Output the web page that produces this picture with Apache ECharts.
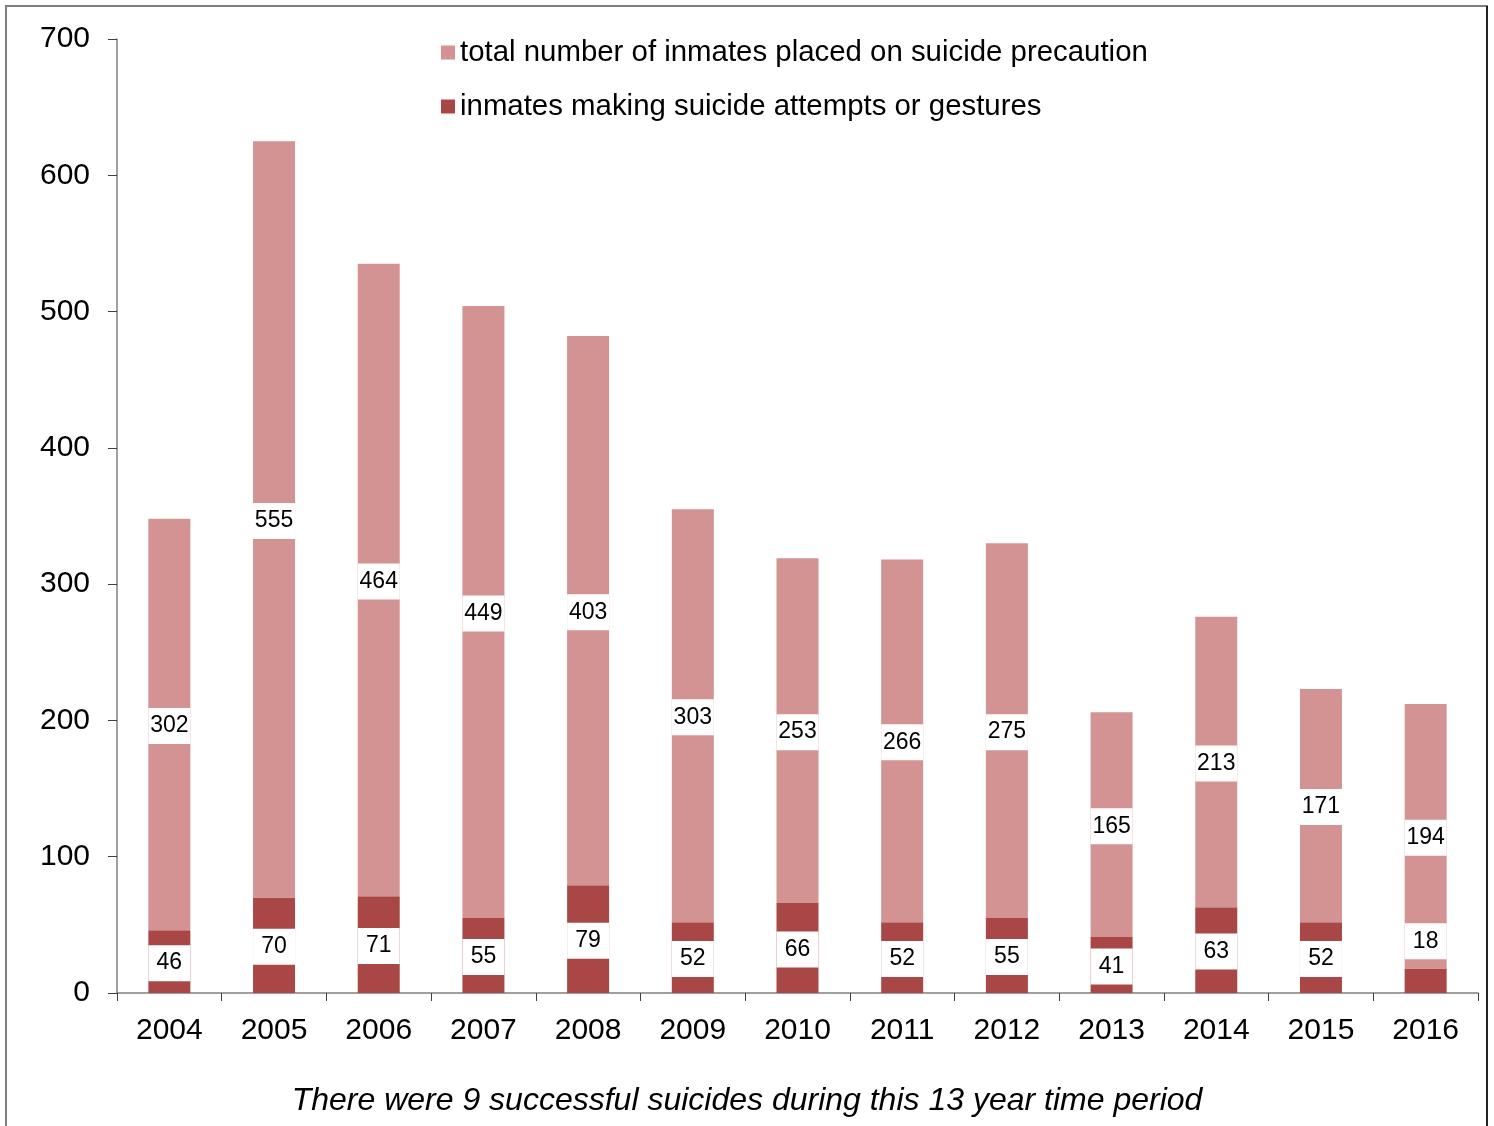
<!DOCTYPE html>
<html>
<head>
<meta charset="utf-8">
<script src="https://cdn.jsdelivr.net/npm/echarts@6/dist/echarts.min.js"></script>
<style>
html,body{margin:0;padding:0;background:#fff;}
#chart{width:1494px;height:1126px;}
</style>
</head>
<body>
<div id="chart"></div>
<script>
const years = ['2004','2005','2006','2007','2008','2009','2010','2011','2012','2013','2014','2015','2016'];
const attempts = [46, 70, 71, 55, 79, 52, 66, 52, 55, 41, 63, 52, 18];
const precaution = [302, 555, 464, 449, 403, 303, 253, 266, 275, 165, 213, 171, 194];
const yTicks = [0, 100, 200, 300, 400, 500, 600, 700];
const caption = 'There were 9 successful suicides during this 13 year time period';

const FONT = '"Liberation Sans", Arial, sans-serif';
const LIGHT = '#D29392';
const DARK = '#A84745';

const labelStyle = {
  show: true,
  position: 'inside',
  color: '#000',
  fontFamily: FONT,
  fontSize: 23,
  lineHeight: 23,
  backgroundColor: '#fff',
  width: 42,
  align: 'center',
  padding: [9, 0, 4, 0],
  offset: [0, 1.5]
};

const attemptData = attempts.map((v, i) => {
  if (i === 12) return { value: v, label: { offset: [0, -39.5] } };
  return v;
});

const chart = echarts.init(document.getElementById('chart'));
chart.setOption({
  animation: false,
  backgroundColor: '#fff',
  grid: { left: 117, right: 16, top: 39, bottom: 133, containLabel: false },
  legend: {
    orient: 'vertical',
    left: 436,
    top: 33,
    itemWidth: 14,
    itemHeight: 14,
    itemGap: 25,
    icon: 'rect',
    data: ['total number of inmates placed on suicide precaution', 'inmates making suicide attempts or gestures'],
    textStyle: { fontFamily: FONT, fontSize: 29.4, color: '#000' }
  },
  xAxis: {
    type: 'category',
    data: years,
    axisLine: { lineStyle: { color: '#808080', width: 1.5 } },
    axisTick: { show: true, length: 8, lineStyle: { color: '#404040' } },
    axisLabel: { fontFamily: FONT, fontSize: 30, color: '#000', margin: 23 }
  },
  yAxis: {
    type: 'value',
    min: yTicks[0],
    max: yTicks[yTicks.length - 1],
    interval: 100,
    splitLine: { show: false },
    axisLine: { show: true, lineStyle: { color: '#808080', width: 1.5 } },
    axisTick: { show: true, length: 9, lineStyle: { color: '#404040' } },
    axisLabel: { fontFamily: FONT, fontSize: 30, color: '#000', margin: 27, padding: [6, 0, 0, 0] }
  },
  series: [
    {
      name: 'inmates making suicide attempts or gestures',
      type: 'bar',
      stack: 'total',
      barWidth: 42,
      itemStyle: { color: DARK },
      label: labelStyle,
      data: attemptData
    },
    {
      name: 'total number of inmates placed on suicide precaution',
      type: 'bar',
      stack: 'total',
      barWidth: 42,
      itemStyle: { color: LIGHT },
      label: labelStyle,
      data: precaution
    }
  ],
  graphic: [
    {
      type: 'rect',
      shape: { x: 6, y: 6, width: 1481, height: 1140 },
      style: { fill: 'none', stroke: '#808080', lineWidth: 2 },
      silent: true
    },
    {
      type: 'line',
      shape: { x1: 1487, y1: 6, x2: 1487, y2: 1126 },
      style: { stroke: '#222', lineWidth: 2 },
      silent: true
    },
    {
      type: 'text',
      left: 'center',
      top: 1085,
      style: {
        text: caption,
        font: 'italic 32px "Liberation Sans", Arial, sans-serif',
        fill: '#000'
      }
    }
  ]
});
</script>
</body>
</html>
